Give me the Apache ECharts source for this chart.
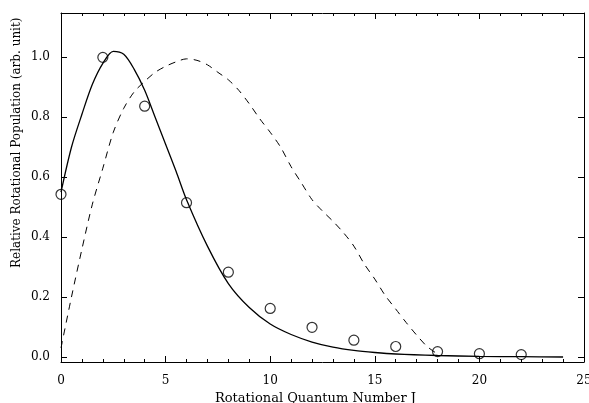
<!DOCTYPE html>
<html>
<head>
<meta charset="utf-8">
<script src="https://cdn.jsdelivr.net/npm/echarts@6/dist/echarts.min.js"></script>
<style>
    html, body { margin: 0; padding: 0; background: #fff; }
    #main { width: 589px; height: 403px; }
</style>
</head>
<body>
<div id="main"></div>
<script>
// fitted curve (solid)
var fitJ = [0, 0.5, 1, 1.5, 2, 2.5, 3, 3.5, 4, 4.5, 5, 5.5, 6, 7, 8, 9, 10, 11, 12, 13, 14, 15, 16, 18, 20, 22, 24]
var fitV = [0.55, 0.70, 0.81, 0.91, 0.98, 1.02, 1.01, 0.96, 0.89, 0.80, 0.71, 0.62, 0.525, 0.37, 0.245, 0.165, 0.11, 0.075, 0.05, 0.033, 0.022, 0.015, 0.01, 0.005, 0.002, 0.001, 0]
// dashed curve
var dashJ = [0, 0.5, 1, 1.5, 2, 2.5, 3, 3.5, 4, 4.5, 5, 5.5, 6, 6.5, 7, 7.5, 8, 8.5, 9, 9.5, 10, 10.5, 11, 11.5, 12, 12.5, 13, 13.5, 14, 14.5, 15, 15.5, 16, 16.5, 17, 17.5, 18]
var dashV = [0.03, 0.2, 0.36, 0.51, 0.63, 0.75, 0.83, 0.885, 0.92, 0.95, 0.97, 0.985, 0.995, 0.99, 0.975, 0.95, 0.925, 0.89, 0.845, 0.795, 0.75, 0.70, 0.635, 0.58, 0.525, 0.487, 0.453, 0.415, 0.37, 0.31, 0.26, 0.205, 0.16, 0.115, 0.073, 0.035, 0.01]
// measured points (circles)
var obsJ = [0, 2, 4, 6, 8, 10, 12, 14, 16, 18, 20, 22]
var obsV = [0.543, 1.0, 0.837, 0.515, 0.283, 0.162, 0.099, 0.056, 0.035, 0.018, 0.011, 0.008]

function pairs (xs, ys) {
    return xs.map(function (x, i) { return [x, ys[i]] })
}

var font = 'DejaVu Serif'
var myChart = echarts.init(document.getElementById('main'))

// 公共轴样式
var lineBlack = { show: true, onZero: false, lineStyle: { color: '#000', width: 1 } }

myChart.setOption({
    animation: false,
    grid: { left: 61, right: 5, top: 13, bottom: 41, outerBoundsMode: 'none', containLabel: false },
    xAxis: [
        {
            type: 'value',
            min: 0,
            max: 25,
            interval: 5,
            axisLine: lineBlack,
            axisTick: { inside: true, length: 6, lineStyle: { color: '#000' } },
            minorTick: { show: true, splitNumber: 5, length: 3, lineStyle: { color: '#000' } },
            splitLine: { show: false },
            axisLabel: { color: '#000', fontFamily: font, fontSize: 12, margin: 13 },
            name: 'Rotational Quantum Number J',
            nameLocation: 'middle',
            nameGap: 27,
            nameTextStyle: { color: '#000', fontFamily: font, fontSize: 13, padding: [0, 14, 0, 0] }
        },
        {
            type: 'value',
            position: 'top',
            min: 0,
            max: 25,
            interval: 5,
            axisLine: lineBlack,
            axisTick: { inside: true, length: 6, lineStyle: { color: '#000' } },
            minorTick: { show: true, splitNumber: 5, length: 3, lineStyle: { color: '#000' } },
            splitLine: { show: false },
            axisLabel: { show: false }
        }
    ],
    yAxis: [
        {
            type: 'value',
            min: -0.0167,
            max: 1.148,
            splitNumber: 5,
            axisLine: lineBlack,
            axisTick: { inside: true, length: 6, lineStyle: { color: '#000' } },
            splitLine: { show: false },
            axisLabel: {
                color: '#000',
                fontFamily: font,
                fontSize: 12,
                margin: 11,
                formatter: function (v) {
                    var k = v * 5
                    if (Math.abs(k - Math.round(k)) > 1e-6) return ''
                    return v.toFixed(1)
                }
            }
        },
        {
            type: 'value',
            position: 'right',
            min: -0.0167,
            max: 1.148,
            splitNumber: 5,
            axisLine: lineBlack,
            axisTick: { inside: true, length: 6, lineStyle: { color: '#000' } },
            splitLine: { show: false },
            axisLabel: { show: false }
        }
    ],
    graphic: [
        {
            type: 'text',
            x: 11,
            y: 268,
            rotation: Math.PI / 2,
            style: { text: 'Relative Rotational Population (arb. unit)', fill: '#000', font: '12px "' + font + '"' }
        }
    ],
    series: [
        {
            type: 'line',
            data: pairs(fitJ, fitV),
            showSymbol: false,
            smooth: 0.3,
            lineStyle: { color: '#000', width: 1.3 }
        },
        {
            type: 'line',
            data: pairs(dashJ, dashV),
            showSymbol: false,
            smooth: 0.3,
            lineStyle: { color: '#000', width: 1, type: [7, 6] }
        },
        {
            type: 'scatter',
            data: pairs(obsJ, obsV),
            symbol: 'circle',
            symbolSize: 10,
            itemStyle: { color: 'transparent', borderColor: '#000', borderWidth: 1.2 }
        }
    ]
})
</script>
</body>
</html>
